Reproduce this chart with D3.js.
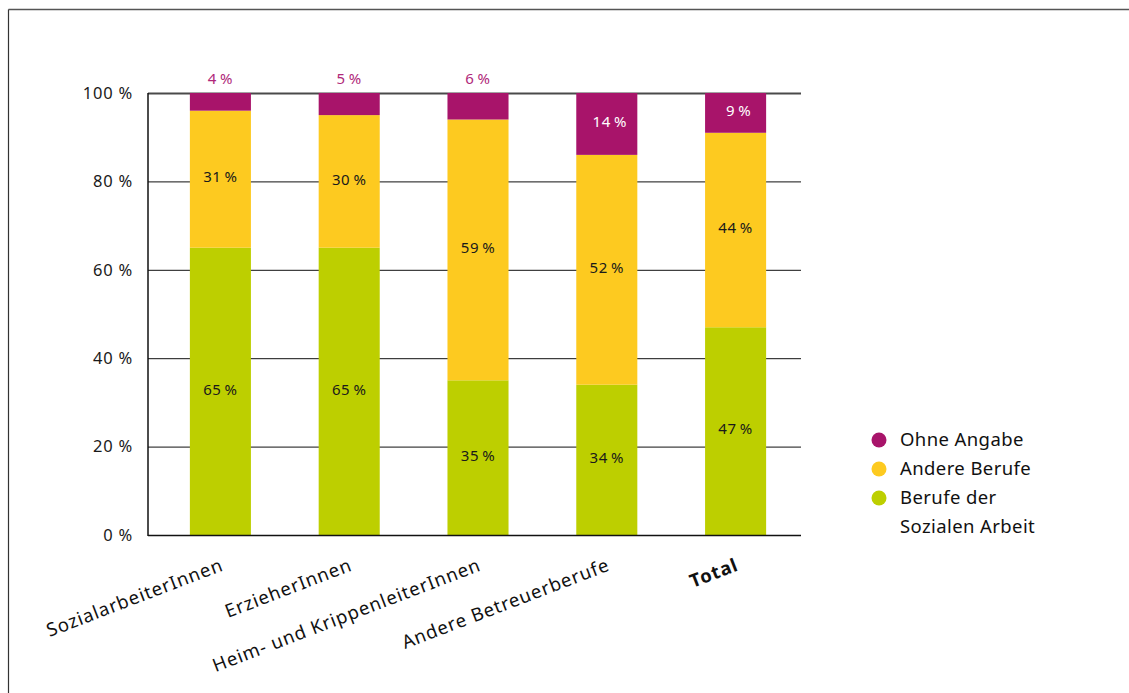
<!DOCTYPE html>
<html>
<head>
<meta charset="utf-8">
<script src="https://cdn.jsdelivr.net/npm/d3@7"></script>
<style>
  html, body { margin: 0; padding: 0; background: #fff; }
  svg { display: block; font-family: "Noto Sans", "Open Sans", sans-serif; }
</style>
</head>
<body>
<svg id="chart" width="1129" height="693"></svg>
<script>
// ── data ──
const categories = ['SozialarbeiterInnen', 'ErzieherInnen', 'Heim- und KrippenleiterInnen', 'Andere Betreuerberufe', 'Total'];
const berufeSozial = [65, 65, 35, 34, 47];
const andereBerufe = [31, 30, 59, 52, 44];
const ohneAngabe   = [4, 5, 6, 14, 9];
const seriesNames  = ['Berufe der Sozialen Arbeit', 'Andere Berufe', 'Ohne Angabe'];
const yTicks = [0, 20, 40, 60, 80, 100];

const colors = { 'Berufe der Sozialen Arbeit': '#bdcf00', 'Andere Berufe': '#fdca20', 'Ohne Angabe': '#a8146a' };

const rows = categories.map((c, i) => ({
  cat: c,
  'Berufe der Sozialen Arbeit': berufeSozial[i],
  'Andere Berufe': andereBerufe[i],
  'Ohne Angabe': ohneAngabe[i]
}));

const svg = d3.select('#chart');

// frame (top + left border)
svg.append('line').attr('x1', 8.5).attr('x2', 1129).attr('y1', 9.5).attr('y2', 9.5)
  .attr('stroke', '#555').attr('stroke-width', 1.5);
svg.append('line').attr('x1', 8.5).attr('x2', 8.5).attr('y1', 9.5).attr('y2', 693)
  .attr('stroke', '#333').attr('stroke-width', 1.2);

const axisLeft = 148, axisRight = 801, plotTop = 93, plotBottom = 535;

const x = d3.scaleBand().domain(categories).range([156, 800]).paddingInner(0.526).paddingOuter(0.263);
const y = d3.scaleLinear().domain([0, 100]).range([plotBottom, plotTop]);

// gridlines
const grid = svg.append('g');
grid.selectAll('line').data(yTicks.filter(t => t > 0)).join('line')
  .attr('x1', axisLeft).attr('x2', axisRight)
  .attr('y1', d => y(d) + 0.5).attr('y2', d => y(d) + 0.5)
  .attr('stroke', d => d === 100 ? '#4a4a4a' : '#111')
  .attr('stroke-width', d => d === 100 ? 2 : 1);

// y tick labels
svg.append('g').selectAll('text').data(yTicks).join('text')
  .attr('x', axisLeft - 15).attr('y', d => y(d))
  .attr('dy', '0.35em')
  .attr('text-anchor', 'end')
  .attr('font-size', 16.5)
  .attr('letter-spacing', 0.8)
  .attr('fill', '#1a1a1a')
  .text(d => d + ' %');

// stacked bars
const stack = d3.stack().keys(seriesNames)(rows);
const layers = svg.append('g').selectAll('g').data(stack).join('g')
  .attr('fill', d => colors[d.key]);
layers.selectAll('rect').data(d => d).join('rect')
  .attr('x', d => x(d.data.cat))
  .attr('width', x.bandwidth())
  .attr('y', d => y(d[1]))
  .attr('height', d => y(d[0]) - y(d[1]));

// axes lines
svg.append('line').attr('x1', axisLeft).attr('x2', axisLeft).attr('y1', plotTop).attr('y2', plotBottom + 1)
  .attr('stroke', '#111').attr('stroke-width', 1.5);
svg.append('line').attr('x1', axisLeft).attr('x2', axisRight).attr('y1', plotBottom + 0.5).attr('y2', plotBottom + 0.5)
  .attr('stroke', '#111').attr('stroke-width', 1.5);

// value labels
const labels = svg.append('g').attr('font-size', 15).attr('letter-spacing', 0.6);
stack.forEach(layer => {
  layer.forEach(d => {
    const v = d.data[layer.key];
    const small = layer.key === 'Ohne Angabe' && v < 8;
    const cx = x(d.data.cat) + x.bandwidth() / 2 + (layer.key === 'Ohne Angabe' && !small ? 3 : 0);
    const cy = small ? y(100) - 14 : (y(d[0]) + y(d[1])) / 2 - 2;
    labels.append('text')
      .attr('x', cx).attr('y', cy)
      .attr('dy', '0.35em')
      .attr('text-anchor', 'middle')
      .attr('fill', small ? '#b0287a' : (layer.key === 'Ohne Angabe' ? '#fff' : '#1a1a1a'))
      .text(v + '\u2009%');
  });
});

// category labels
svg.append('g').selectAll('text').data(categories).join('text')
  .attr('transform', d => `translate(${x(d) + x.bandwidth() / 2 + 4},${570}) rotate(-21)`)
  .attr('text-anchor', 'end')
  .attr('font-size', 18.5)
  .attr('letter-spacing', 0.9)
  .attr('font-weight', d => d === 'Total' ? 'bold' : 'normal')
  .attr('fill', '#111')
  .text(d => d);

// legend
const legendItems = ['Ohne Angabe', 'Andere Berufe', 'Berufe der Sozialen Arbeit'];
const lg = svg.append('g').attr('transform', 'translate(879,440)');
legendItems.forEach((k, i) => {
  const g = lg.append('g').attr('transform', `translate(0,${i * 29})`);
  g.append('circle').attr('r', 7.5).attr('fill', colors[k]);
  const t = g.append('text').attr('x', 21).attr('dy', '0.35em')
    .attr('font-size', 18.5).attr('letter-spacing', 0.4).attr('fill', '#111');
  if (k === 'Berufe der Sozialen Arbeit') {
    t.append('tspan').attr('x', 21).text('Berufe der');
    t.append('tspan').attr('x', 21).attr('dy', 29).text('Sozialen Arbeit');
  } else {
    t.text(k);
  }
});
</script>
</body>
</html>
